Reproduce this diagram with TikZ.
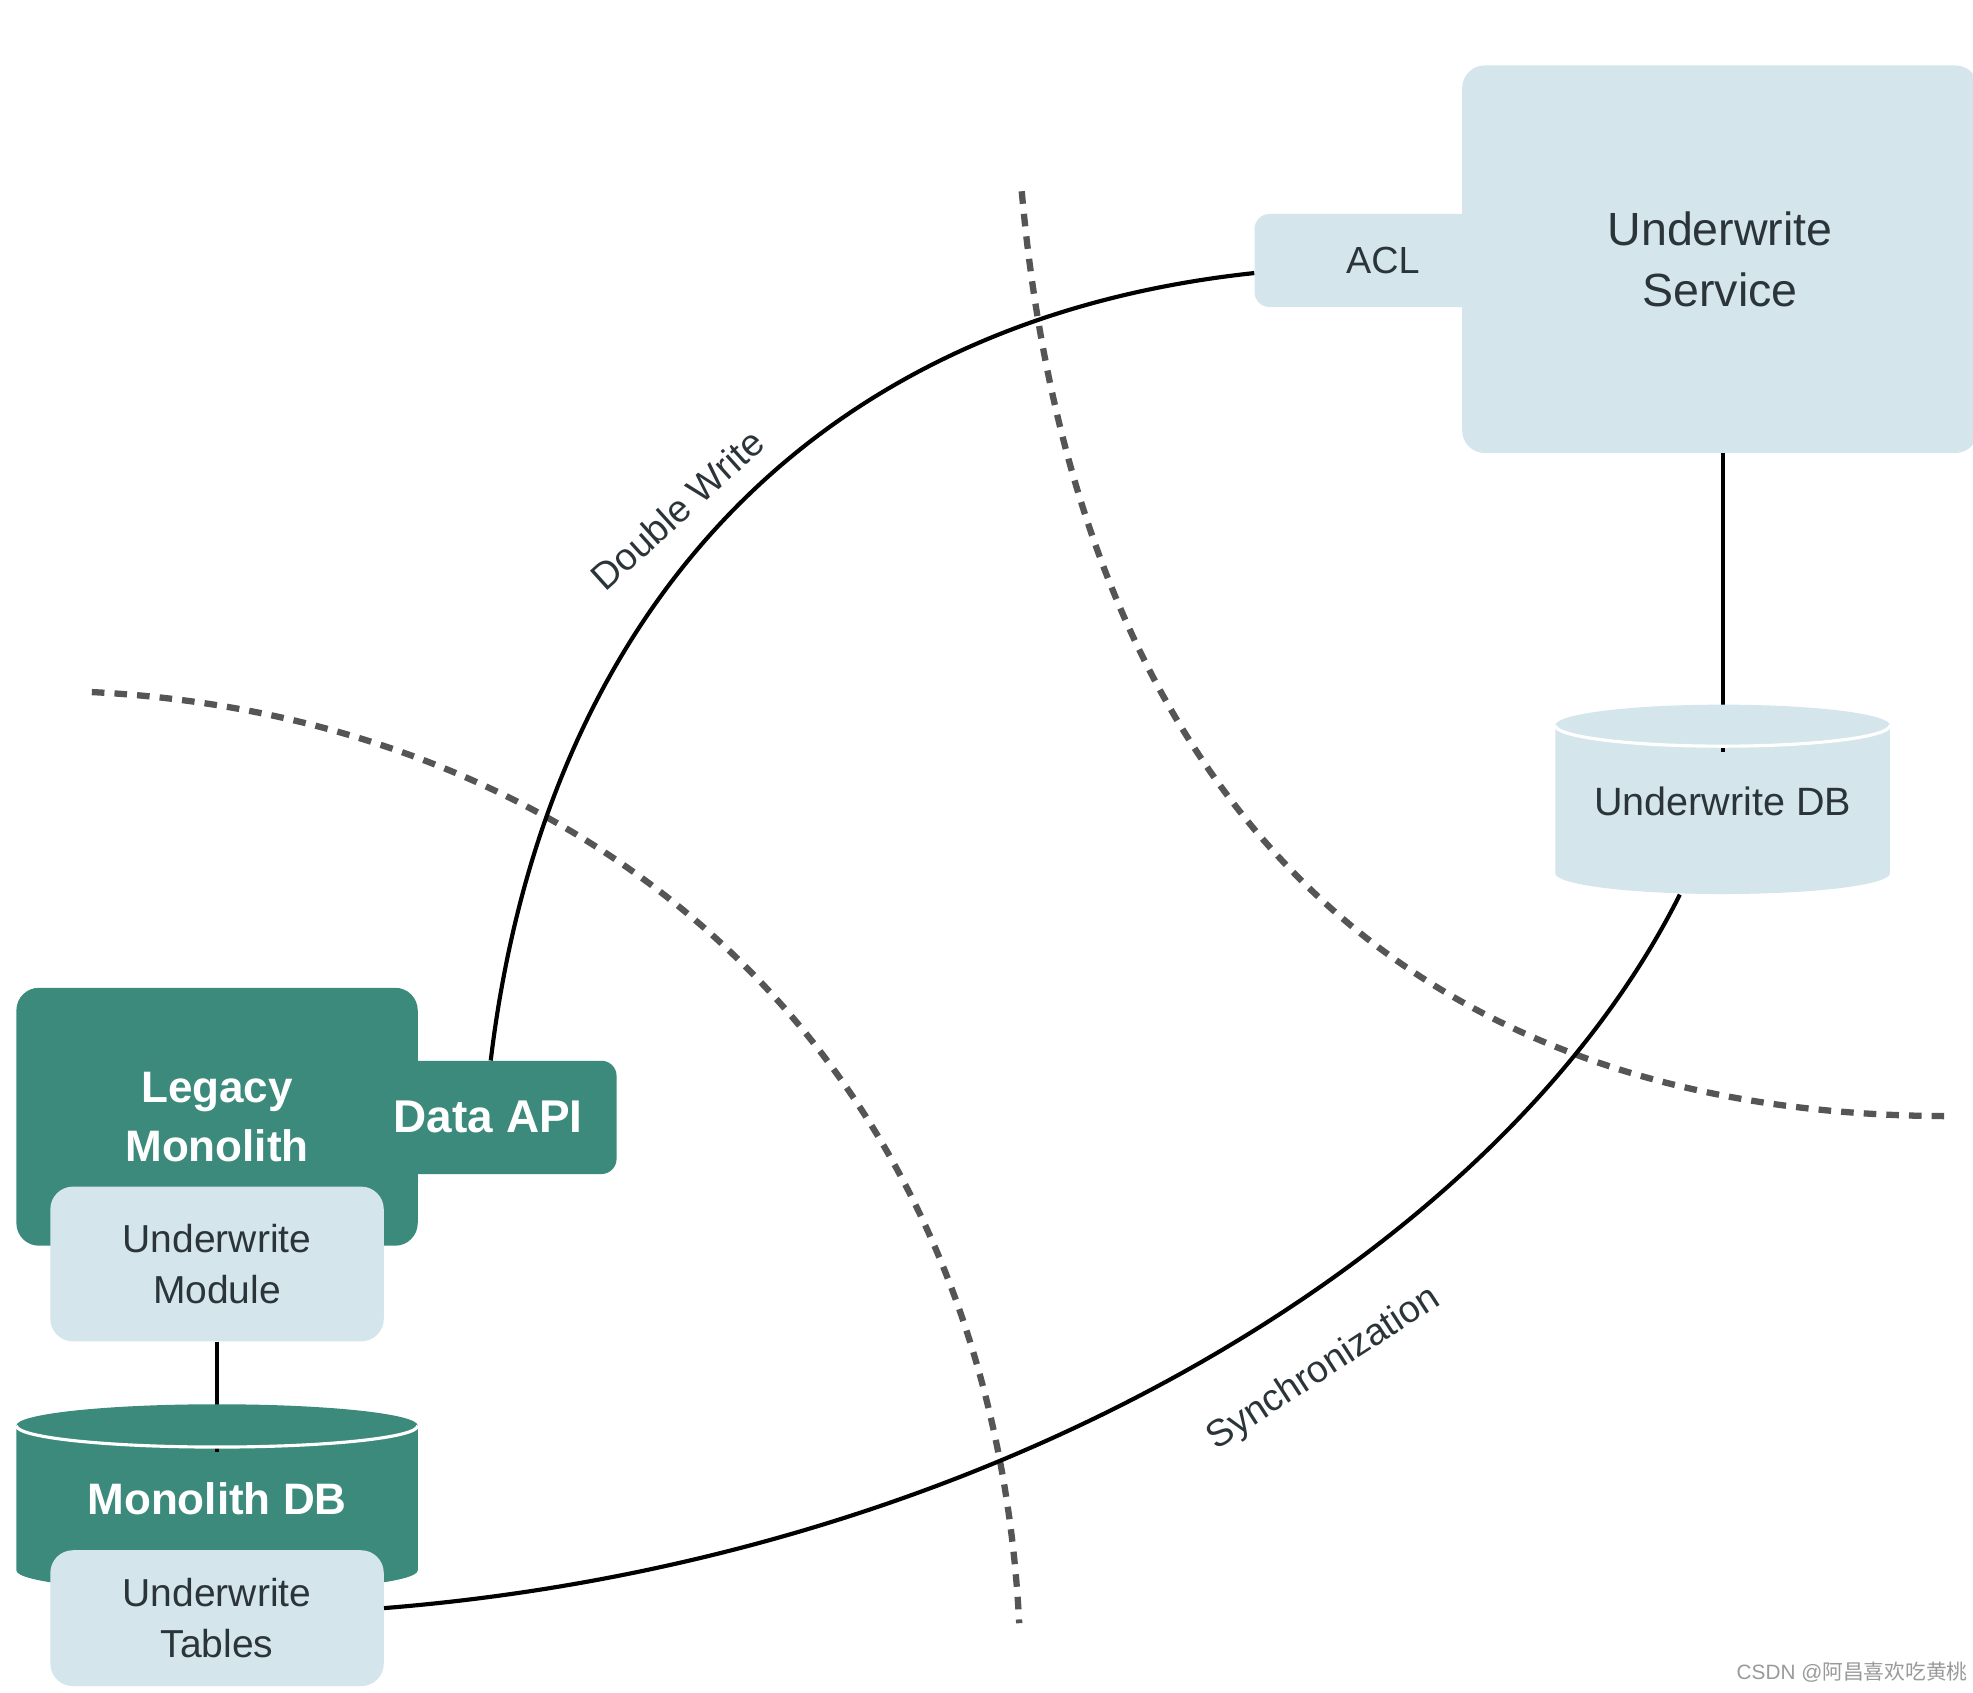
\documentclass[tikz,border=0pt]{standalone}
\usepackage{fontspec}
\setmainfont{Liberation Sans}
\newfontfamily\cjk{Noto Sans CJK SC}
\definecolor{tealc}{HTML}{3B8A7B}
\definecolor{palec}{HTML}{D4E6EC}
\definecolor{inkc}{HTML}{2B3539}
\definecolor{dashc}{HTML}{555555}
\definecolor{wmc}{HTML}{9A9A9A}
\begin{document}
\begin{tikzpicture}[x=1pt,y=-1pt,
  box/.style={inner sep=0pt, align=center},
  palebox/.style={box, fill=palec, text=inkc},
  tealbox/.style={box, fill=tealc, text=white},
  conn/.style={line width=3.3pt, black},
  sepline/.style={line width=5pt, dashc, dash pattern=on 10pt off 8pt},
  lbl/.style={text=inkc, inner sep=0pt, font=\fontsize{30}{36}\selectfont},
  cylfront/.style={white, line width=2.5pt}
]
\fill[white] (0,0) rectangle (1568,1345);
\useasboundingbox (0,0) rectangle (1568,1345);

% separation lines
\draw[sepline] (812,152) .. controls (850,580) and (1070,887) .. (1550,887);
\draw[sepline] (73,550) .. controls (473,570) and (787,840) .. (810,1290);

% new service
\node[palebox, rounded corners=12pt, minimum width=204pt, minimum height=74pt,
      font=\fontsize{30}{36}\selectfont] (acl) at (1099,207) {ACL};
\node[palebox, rounded corners=18pt, minimum width=410pt, minimum height=308pt,
      font=\fontsize{37}{49}\selectfont] (svc) at (1367,206) {Underwrite\\Service};

% legacy monolith
\node[tealbox, rounded corners=18pt, minimum width=319pt, minimum height=205pt,
      font=\fontsize{35}{47}\selectfont\bfseries] (legacy) at (172.5,887.5) {Legacy\\Monolith};
\fill[tealc, rounded corners=12pt] (320,843) rectangle (490,933);
\node[text=white, inner sep=0pt, font=\fontsize{36.5}{44}\selectfont\bfseries,
      minimum width=158pt, minimum height=90pt] (dataapi) at (411,888) {};
\node[text=white, inner sep=0pt, font=\fontsize{36.5}{44}\selectfont\bfseries] (dataapitext) at (388,888) {Data API};
\node[palebox, rounded corners=18pt, minimum width=265pt, minimum height=123pt,
      font=\fontsize{31}{41}\selectfont] (module) at (172.5,1004.5) {Underwrite\\Module};

% underwrite DB cylinder
\coordinate (udbtop) at (1369,598);
\coordinate (udbbot) at (1335,711);
\fill[palec] (1236,576.5) -- (1236,694) arc[start angle=180, end angle=360, x radius=133pt, y radius=16.5pt] -- (1502,576.5) -- cycle;
\draw[conn] (udbtop |- svc.south) -- (udbtop);
\fill[palec] (1369,576.5) ellipse [x radius=133pt, y radius=16.5pt];
\draw[cylfront] (1236,576.5) arc[start angle=180, end angle=360, x radius=133pt, y radius=16.5pt];
\node[text=inkc, inner sep=0pt, font=\fontsize{31.4}{38}\selectfont] (udb) at (1369,637) {Underwrite DB};

% monolith DB cylinder
\coordinate (mdbtop) at (172.5,1154);
\fill[tealc] (13,1133) -- (13,1248) arc[start angle=180, end angle=360, x radius=159.5pt, y radius=17pt] -- (332,1133) -- cycle;
\draw[conn] (module.south) -- (mdbtop);
\fill[tealc] (172.5,1133) ellipse [x radius=159.5pt, y radius=17pt];
\draw[cylfront] (13,1133) arc[start angle=180, end angle=360, x radius=159.5pt, y radius=17pt];
\node[text=white, inner sep=0pt, font=\fontsize{35}{42}\selectfont\bfseries] (mdb) at (172.5,1191) {Monolith DB};
\node[palebox, rounded corners=18pt, minimum width=265pt, minimum height=108pt,
      font=\fontsize{31}{41}\selectfont] (tables) at (172.5,1286) {Underwrite\\Tables};

% connectors
\draw[conn] ([xshift=-21pt]dataapi.north) .. controls (432,493) and (640,255) .. ([yshift=-10pt]acl.west);
\draw[conn] ([yshift=8pt]tables.east) .. controls (780,1240) and (1190,1000) .. (udbbot);

% labels
\node[lbl, rotate=42] (dwlbl) at (538,405) {Double Write};
\node[lbl, rotate=33] (synclbl) at (1052,1088) {Synchronization};

% watermark
\node[text=wmc, inner sep=0pt, font=\fontsize{16.5}{20}\selectfont] (wm) at (1472,1329) {CSDN @{\cjk 阿昌喜欢吃黄桃}};
\end{tikzpicture}
\end{document}
